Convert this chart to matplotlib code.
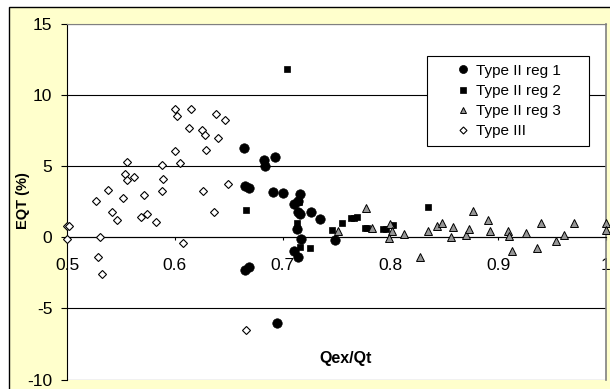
import matplotlib
matplotlib.use("Agg")
import matplotlib.pyplot as plt
from matplotlib.patches import Rectangle

plt.rcParams['font.family'] = ['Liberation Sans', 'DejaVu Sans']
plt.rcParams['axes.unicode_minus'] = False

# ---- data ----
x_reg1 = [0.664, 0.683, 0.684, 0.693, 0.665, 0.669, 0.6915, 0.700, 0.716, 0.711, 0.714,
          0.7145, 0.716, 0.7265, 0.735, 0.7135, 0.717, 0.749, 0.711, 0.714, 0.665, 0.669, 0.695]
y_reg1 = [6.3, 5.4, 5.0, 5.6, 3.6, 3.45, 3.2, 3.1, 3.0, 2.3, 2.55,
          1.75, 1.65, 1.75, 1.25, 0.6, -0.15, -0.2, -1.0, -1.4, -2.3, -2.1, -6.0]

x_reg2 = [0.7045, 0.6664, 0.715, 0.713, 0.713, 0.716, 0.7255, 0.7457, 0.755, 0.763,
          0.766, 0.769, 0.776, 0.7785, 0.7934, 0.796, 0.802, 0.8346]
y_reg2 = [11.8, 1.9, 2.45, 1.0, 0.55, -0.7, -0.77, 0.52, 0.99, 1.34,
          1.36, 1.41, 0.66, 0.61, 0.56, 0.56, 0.85, 2.11]

x_reg3 = [0.7516, 0.7776, 0.7832, 0.800, 0.8014, 0.7983, 0.8126, 0.8275, 0.8352, 0.8436,
          0.8479, 0.856, 0.8584, 0.8702, 0.873, 0.8764, 0.891, 0.8925, 0.9092, 0.9101,
          0.9126, 0.926, 0.9356, 0.9399, 0.9535, 0.961, 0.9703, 1.0, 1.0]
y_reg3 = [0.45, 2.04, 0.61, 0.95, 0.45, -0.05, 0.24, -1.41, 0.45, 0.78,
          1.01, 0.0, 0.71, 0.12, 0.54, 1.83, 1.22, 0.43, 0.43, 0.05,
          -0.98, 0.28, -0.73, 1.01, -0.28, 0.14, 1.01, 1.01, 0.47]

x_t3 = [0.500, 0.502, 0.500, 0.527, 0.538, 0.542, 0.546, 0.552, 0.556, 0.554, 0.556,
        0.562, 0.571, 0.569, 0.574, 0.583, 0.588, 0.589, 0.588, 0.531, 0.529, 0.5325,
        0.600, 0.6047, 0.6075, 0.6004, 0.6025, 0.615, 0.6128, 0.6255, 0.6276, 0.629,
        0.6258, 0.6385, 0.647, 0.6403, 0.636, 0.649, 0.6657]
y_t3 = [0.77, 0.8, -0.1, 2.56, 3.34, 1.76, 1.2, 2.77, 5.28, 4.41, 4.04,
        4.23, 2.96, 1.44, 1.6, 1.06, 5.1, 4.06, 3.27, 0.0, -1.36, -2.58,
        6.06, 5.19, -0.42, 8.99, 8.48, 9.04, 7.68, 7.56, 7.21, 6.15,
        3.27, 8.66, 8.22, 6.97, 1.76, 3.75, -6.5]

series_labels = ['Type II reg 1', 'Type II reg 2', 'Type II reg 3', 'Type III']
x_ticks = [0.5, 0.6, 0.7, 0.8, 0.9, 1.0]
x_ticklabels = ['0.5', '0.6', '0.7', '0.8', '0.9', '1']
y_ticks = [-10, -5, 0, 5, 10, 15]
y_ticklabels = ['-10', '-5', '0', '5', '10', '15']

W, H = 610, 389
fig = plt.figure(figsize=(W / 100, H / 100), dpi=100)

# chart-area background (pale yellow with black border)
bg = Rectangle((9 / W, -0.05), 1.2, 1 - 7 / H + 0.05,
               transform=fig.transFigure, facecolor='#FFFFCC',
               edgecolor='black', lw=1.0, zorder=-10)
fig.patches.append(bg)

left, right, top, bottom = 67, 606, 23.7, 379.5
ax = fig.add_axes([left / W, 1 - bottom / H, (right - left) / W, (bottom - top) / H])
ax.set_zorder(1)
ax.set_facecolor('white')
ax.set_xlim(0.5, 1.0)
ax.set_ylim(-10, 15)

ax.set_yticks(y_ticks)
ax.set_yticklabels(y_ticklabels)
ax.set_xticks(x_ticks)
ax.set_xticklabels(x_ticklabels)

ax.yaxis.grid(True, color='black', lw=0.8)
ax.set_axisbelow(True)

ax.spines['bottom'].set_position(('data', 0))
ax.spines['bottom'].set_color('black')
ax.spines['bottom'].set_linewidth(0.8)
ax.spines['left'].set_color('black')
ax.spines['left'].set_linewidth(0.8)
ax.spines['top'].set_color('#808080')
ax.spines['right'].set_color('#808080')
ax.spines['right'].set_linewidth(1.2)

ax.tick_params(axis='y', direction='out', length=4.5, width=0.8, pad=6, labelsize=12.5)
ax.tick_params(axis='x', direction='out', length=2.5, width=0.8, pad=12.5, labelsize=12.5)

mk = dict(linestyle='none', clip_on=False)
ax.plot(x_reg1, y_reg1, marker='o', ms=6.8, mfc='black', mec='black', mew=0.5,
        label=series_labels[0], zorder=3, **mk)
ax.plot(x_reg2, y_reg2, marker='s', ms=4.8, mfc='black', mec='black', mew=0.5,
        label=series_labels[1], zorder=4, **mk)
ax.plot(x_reg3, y_reg3, marker='^', ms=5.2, mfc='#969696', mec='black', mew=0.7,
        label=series_labels[2], zorder=5, **mk)
ax.plot(x_t3, y_t3, marker='D', ms=4.2, mfc='white', mec='black', mew=0.8,
        label=series_labels[3], zorder=6, **mk)

# legend box
lx0, lx1, ly0, ly1 = 427, 589, 56, 146
ax.add_patch(Rectangle((lx0 / W, 1 - ly1 / H), (lx1 - lx0) / W, (ly1 - ly0) / H,
                       transform=fig.transFigure, facecolor='white',
                       edgecolor='black', lw=0.8, zorder=7, clip_on=False))
leg = ax.legend(loc='center', bbox_to_anchor=((lx0 + lx1) / 2 / W, 1 - (ly0 + ly1) / 2 / H),
                bbox_transform=fig.transFigure, frameon=False, fontsize=11,
                handlelength=1.0, handletextpad=0.35, labelspacing=0.4,
                borderpad=0, numpoints=1, markerscale=0.85)
leg.set_zorder(8)

fig.text(23 / W, 1 - 201 / H, 'EQT (%)', fontsize=10.5, fontweight='bold',
         rotation=90, ha='center', va='center', zorder=5)
fig.text(346 / W, 1 - 358 / H, 'Qex/Qt', fontsize=11.5, fontweight='bold',
         ha='center', va='center', zorder=5)

fig.savefig('out.png', dpi=100)
